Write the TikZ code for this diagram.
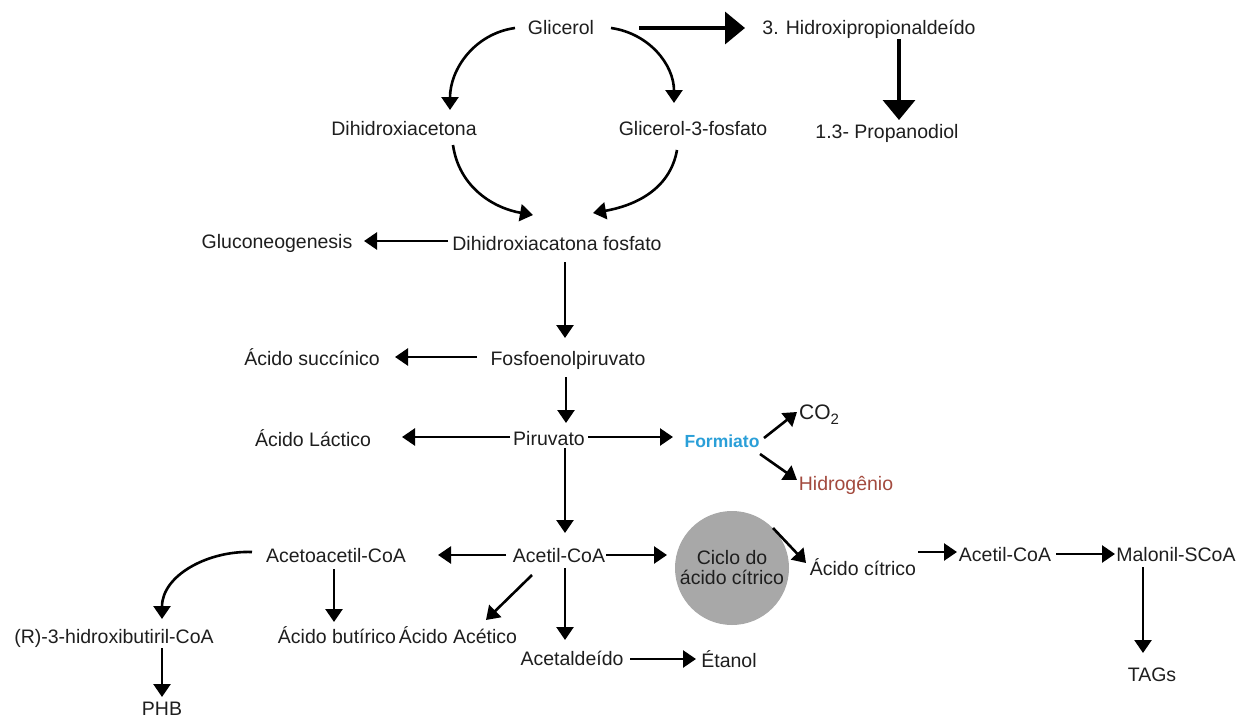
\documentclass[tikz,border=0pt]{standalone}
\usepackage{fontspec}
\setmainfont{Liberation Sans}
\usetikzlibrary{arrows.meta}
\definecolor{txt}{HTML}{1E1E1E}
\definecolor{formblue}{HTML}{2A9FD8}
\definecolor{hidred}{HTML}{A34A3E}
\definecolor{cicgray}{HTML}{A8A8A8}
\begin{document}
\begin{tikzpicture}[x=1pt,y=-1pt,
  lbl/.style={inner sep=0pt,outer sep=0pt,text height=14pt,text depth=0pt,
              font=\fontsize{19.5}{22}\selectfont,text=txt},
  arr/.style={line width=2.6pt,-{Triangle[width=17pt,length=13pt]}},
  bigarr/.style={line width=3.6pt,-{Triangle[width=32pt,length=20pt]}},
  cyc/.style={circle,fill=cicgray,minimum size=114pt,inner sep=0pt,align=center,
              font=\fontsize{19.5}{20}\selectfont,text=txt}]
\useasboundingbox[fill=white] (0,0) rectangle (1239,717);
% nodes
\node[lbl] (glic)   at (561,28)  {Glicerol};
\node[lbl] (hidrox) at (869,28)  {3. Hidroxipropionaldeído};
\node[lbl] (dha)    at (404,128) {Dihidroxiacetona};
\node[lbl] (g3p)    at (693,128) {Glicerol-3-fosfato};
\node[lbl] (prop)   at (887,131) {1.3- Propanodiol};
\node[lbl] (gluco)  at (277,241) {Gluconeogenesis};
\node[lbl] (dhap)   at (557,243) {Dihidroxiacatona fosfato};
\node[lbl] (succ)   at (312,358) {Ácido succínico};
\node[lbl] (fosfo)  at (568,358) {Fosfoenolpiruvato};
\node[lbl] (lact)   at (313,439) {Ácido Láctico};
\node[lbl] (piru)   at (549,438) {Piruvato};
\node[lbl,font=\fontsize{17.5}{20}\selectfont\bfseries,text=formblue] (form) at (722,440) {Formiato};
\node[lbl,font=\fontsize{21}{24}\selectfont] (co2) at (819,412) {CO\raisebox{-5pt}{\fontsize{15}{15}\selectfont 2}};
\node[lbl,text=hidred] (hidro) at (846,483) {Hidrogênio};
\node[lbl] (acac)   at (336,555) {Acetoacetil-CoA};
\node[lbl] (acet)   at (559,555) {Acetil-CoA};
\node[cyc] (ciclo)  at (732,568) {Ciclo do\\ácido cítrico};
\node[lbl] (citr)   at (863,568) {Ácido cítrico};
\node[lbl] (acet2)  at (1005,554) {Acetil-CoA};
\node[lbl] (malo)   at (1176,554) {Malonil-SCoA};
\node[lbl] (rhb)    at (114,636) {(R)-3-hidroxibutiril-CoA};
\node[lbl] (but)    at (337,636) {Ácido butírico};
\node[lbl] (acetico) at (458,636) {Ácido Acético};
\node[lbl] (acald)  at (572,658) {Acetaldeído};
\node[lbl] (etanol) at (729,660) {Étanol};
\node[lbl] (phb)    at (162,708) {PHB};
\node[lbl] (tags)   at (1152,674) {TAGs};
% curved connectors
\draw[arr] ([xshift=-46pt]glic.center) to[out=188,in=90] ([xshift=46pt,yshift=18pt]dha.center);
\draw[arr] ([xshift=50pt]glic.center) to[out=-8,in=90] ([xshift=-19pt,yshift=25pt]g3p.center);
\draw[arr] ([xshift=49pt,yshift=-17pt]dha.center) to[out=-82,in=170] ([xshift=-24pt,yshift=28pt]dhap.center);
\draw[arr] ([xshift=-16pt,yshift=-22pt]g3p.center) to[out=-100,in=10] ([xshift=36pt,yshift=30pt]dhap.center);
\draw[arr] ([xshift=-84pt,yshift=3pt]acac.center) to[out=178,in=90] ([xshift=48pt,yshift=17pt]rhb.center);
% thick connectors
\draw[bigarr] ([xshift=78pt]glic.center) -- ([xshift=-124pt]hidrox.center);
\draw[bigarr] ([xshift=30pt,yshift=-11pt]hidrox.center) -- ([xshift=12pt,yshift=11pt]prop.center);
% straight connectors
\draw[arr] ([xshift=-109pt,yshift=2pt]dhap.center) -- ([xshift=87pt]gluco.center);
\draw[arr] ([xshift=8pt,yshift=-19pt]dhap.center) -- ([xshift=-3pt,yshift=20pt]fosfo.center);
\draw[arr] ([xshift=-91pt,yshift=1pt]fosfo.center) -- ([xshift=83pt,yshift=1pt]succ.center);
\draw[arr] ([xshift=-2pt,yshift=-19pt]fosfo.center) -- ([xshift=17pt,yshift=15pt]piru.center);
\draw[arr] ([xshift=-39pt,yshift=1pt]piru.center) -- ([xshift=89pt,yshift=2pt]lact.center);
\draw[arr] ([xshift=39pt,yshift=1pt]piru.center) -- ([xshift=-49pt,yshift=3pt]form.center);
\draw[arr] ([xshift=42pt,yshift=2pt]form.center) -- ([xshift=-22pt]co2.center);
\draw[arr] ([xshift=38pt,yshift=-14pt]form.center) -- ([xshift=-49pt,yshift=3pt]hidro.center);
\draw[arr] ([xshift=16pt,yshift=-10pt]piru.center) -- ([xshift=6pt,yshift=22pt]acet.center);
\draw[arr] ([xshift=-53pt]acet.center) -- ([xshift=102pt]acac.center);
\draw[arr] ([xshift=47pt]acet.center) -- ([xshift=-65pt,yshift=13pt]ciclo.center);
\draw[arr] ([xshift=-27pt,yshift=-20pt]acet.center) -- ([xshift=28pt,yshift=16pt]acetico.center);
\draw[arr] ([xshift=6pt,yshift=-13pt]acet.center) -- ([xshift=-7pt,yshift=18pt]acald.center);
\draw[arr] ([xshift=58pt,yshift=-1pt]acald.center) -- ([xshift=-33pt,yshift=1pt]etanol.center);
\draw[arr] ([xshift=-2pt,yshift=-14pt]acac.center) -- ([xshift=-3pt,yshift=14pt]but.center);
\draw[arr] ([xshift=48pt,yshift=-12pt]rhb.center) -- ([yshift=11pt]phb.center);
\draw[arr] ([xshift=41pt,yshift=40pt]ciclo.center) -- ([xshift=-57pt,yshift=5pt]citr.center);
\draw[arr] ([xshift=55pt,yshift=16pt]citr.center) -- ([xshift=-48pt,yshift=2pt]acet2.center);
\draw[arr] ([xshift=51pt]acet2.center) -- ([xshift=-61pt]malo.center);
\draw[arr] ([xshift=-33pt,yshift=-13pt]malo.center) -- ([xshift=-9pt,yshift=21pt]tags.center);
\end{tikzpicture}
\end{document}
